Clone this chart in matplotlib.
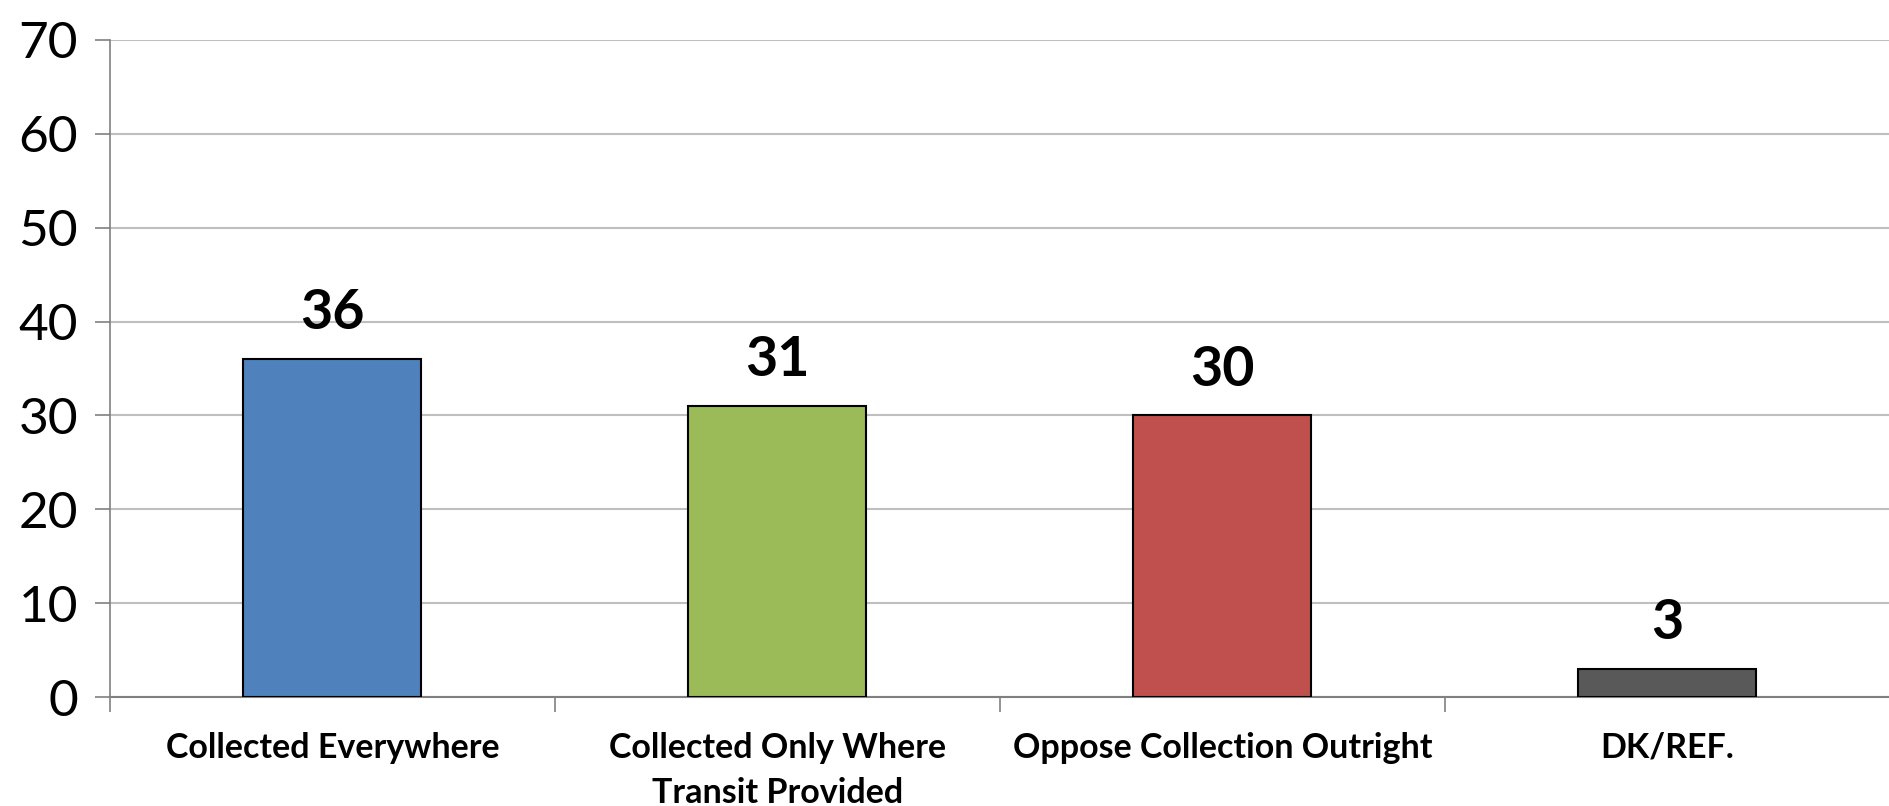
import numpy as np
import matplotlib
matplotlib.use("Agg")
import matplotlib.pyplot as plt

# survey answers and their shares (%)
categories = ["Collected Everywhere", "Collected Only Where\nTransit Provided",
              "Oppose Collection Outright", "DK/REF."]
values = [36, 31, 30, 3]
bar_colors = ["#4F81BD", "#9BBB59", "#C0504D", "#595959"]
y_ticks = [0, 10, 20, 30, 40, 50, 60, 70]

plt.rcParams['font.family'] = ['Lato', 'DejaVu Sans']

fig = plt.figure(figsize=(18.9, 8.06), dpi=100)
ax = fig.add_axes([0.0582, 0.1352, 0.9418, 0.8152])

x = np.arange(len(categories))
bars = ax.bar(x, values, width=0.4, color=bar_colors, edgecolor="black",
              linewidth=1.5, zorder=3)

# value labels above bars
for b, v in zip(bars, values):
    ax.text(b.get_x() + b.get_width() / 2, v + 2.2, str(v), ha="center",
            va="bottom", fontsize=40, fontweight="bold", zorder=4)

ax.set_xlim(-0.5, len(categories) - 0.5)
ax.set_ylim(0, 70)
ax.set_yticks(y_ticks)
ax.tick_params(axis="y", labelsize=37, length=11, width=1.2, color="#808080",
               pad=12)

# category labels without tick marks, boundary ticks as minor ticks
ax.set_xticks(x)
ax.set_xticklabels(categories, fontsize=24.5, fontweight="bold", linespacing=1.5)
ax.tick_params(axis="x", which="major", length=0, pad=25)
ax.set_xticks(np.arange(-0.5, len(categories)), minor=True)
ax.tick_params(axis="x", which="minor", length=11, width=1.2, color="#808080")

ax.grid(axis="y", color="#BFBFBF", linewidth=1.5, zorder=0)
for side in ["top", "right"]:
    ax.spines[side].set_visible(False)
ax.spines["left"].set_color("#808080")
ax.spines["bottom"].set_color("#808080")
ax.spines["left"].set_linewidth(1.2)
ax.spines["bottom"].set_linewidth(1.5)

fig.savefig("out.png", dpi=100)
